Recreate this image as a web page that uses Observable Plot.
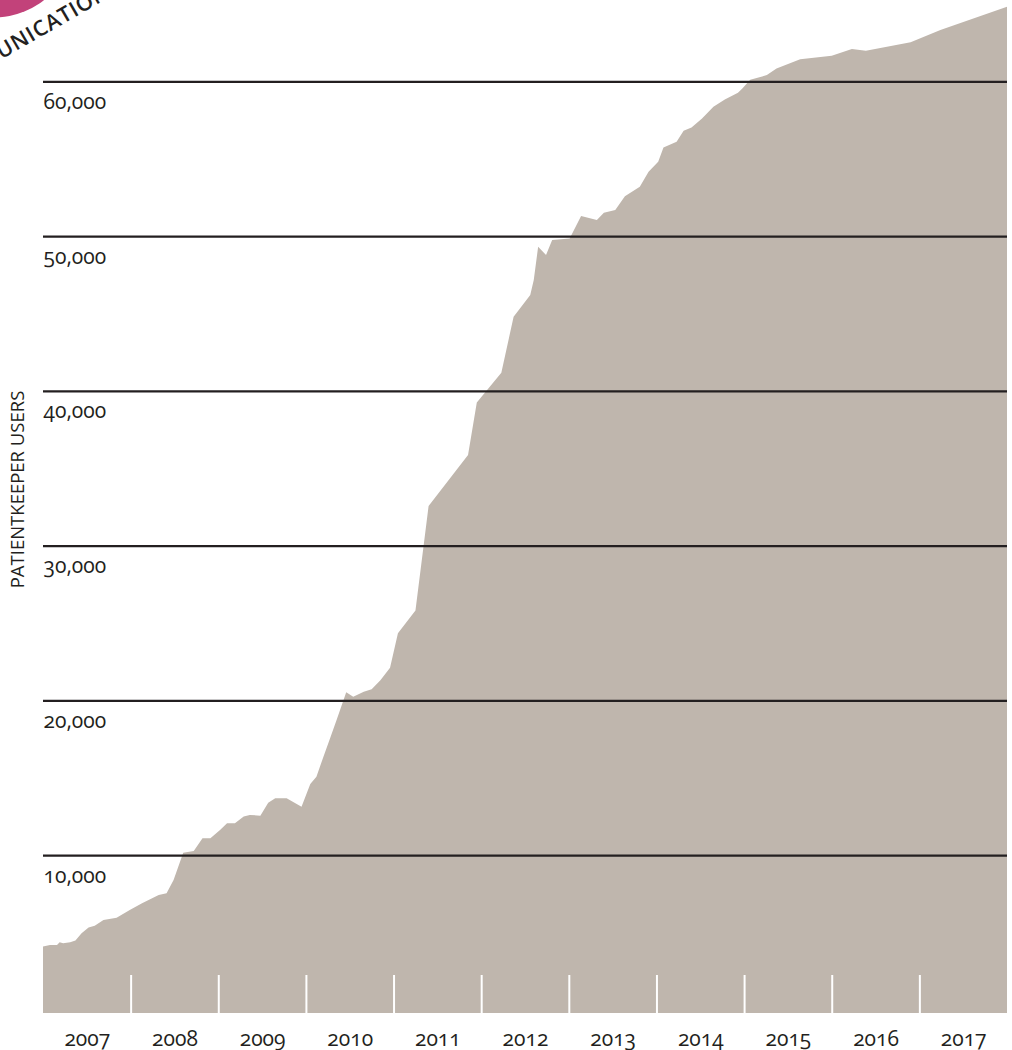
<!DOCTYPE html>
<html><head><meta charset="utf-8">
<script src="https://cdn.jsdelivr.net/npm/d3@7"></script>
<script src="https://cdn.jsdelivr.net/npm/@observablehq/plot@0.6"></script>
<style>
html,body{margin:0;padding:0;background:#fff;overflow:hidden;}
#chart svg{display:block;}
#chart svg text{font-variant-numeric:oldstyle-nums;font-feature-settings:"onum" 1;}
</style></head><body><div id="chart"></div>
<script>
// decimal-year positions and user counts
const dates = [2007.00,2007.08,2007.16,2007.19,2007.23,2007.31,2007.37,2007.44,2007.52,2007.59,2007.69,2007.84,2007.99,
  2008.13,2008.32,2008.41,2008.49,2008.60,2008.72,2008.82,2008.91,
  2009.02,2009.10,2009.19,2009.29,2009.36,2009.48,2009.57,2009.65,2009.78,2009.95,
  2010.05,2010.12,2010.20,2010.28,2010.35,2010.46,2010.54,2010.66,2010.75,2010.85,2010.96,
  2011.05,2011.25,2011.40,2011.85,2011.95,
  2012.23,2012.37,2012.56,2012.60,2012.65,2012.74,2012.81,
  2013.01,2013.14,2013.32,2013.40,2013.53,2013.64,2013.81,2013.91,
  2014.02,2014.08,2014.23,2014.31,2014.40,2014.52,2014.65,2014.78,2014.93,2014.98,
  2015.07,2015.26,2015.37,2015.64,2016.00,2016.23,2016.39,2016.90,2017.24,2018.00];
const users = [4100,4200,4200,4370,4300,4370,4480,4950,5320,5430,5810,5960,6460,
  6890,7430,7540,8400,10160,10270,11090,11090,
  11630,12060,12060,12490,12600,12550,13390,13680,13680,13130,
  14600,15070,16360,17620,18730,20520,20240,20560,20720,21300,22100,
  24330,25800,32560,35850,39250,
  41170,44790,46190,47160,49310,48770,49740,
  49850,51290,51030,51500,51680,52580,53190,54160,
  54800,55730,56090,56800,57020,57600,58350,58830,59260,59540,
  60100,60400,60830,61420,61650,62080,61980,62520,63310,64810];
const gridValues = [10000,20000,30000,40000,50000,60000];
const gridLabels = ["10,000","20,000","30,000","40,000","50,000","60,000"];
const yearLabels = [2007,2008,2009,2010,2011,2012,2013,2014,2015,2016,2017];
const yearBoundaries = [2008,2009,2010,2011,2012,2013,2014,2015,2016,2017];
const axisTitle = "PATIENTKEEPER USERS";
const badgeText = "UNICATION";
const yMin = -200, yMax = 64800;

const data = dates.map((d, i) => ({date: d, users: users[i]}));

const chart = Plot.plot({
  width: 1012, height: 1050,
  marginLeft: 43, marginRight: 5, marginTop: 7, marginBottom: 37,
  x: {domain: [2007, 2018], axis: null},
  y: {domain: [yMin, yMax], axis: null},
  style: {fontFamily: "'Open Sans', sans-serif", color: "#231f20", background: "white"},
  marks: [
    Plot.dot([0], {frameAnchor: "top-left", dx: -50, dy: -72, r: 82, fill: "#c2427a", stroke: "none"}),
    Plot.text([badgeText], {frameAnchor: "top-left", dx: -42, dy: 52, rotate: -30, textAnchor: "start", lineAnchor: "bottom", fontSize: 21.5, fontWeight: 600, fill: "#231f20"}),
    Plot.areaY(data, {x: "date", y1: yMin, y2: "users", fill: "#bfb6ad"}),
    Plot.ruleX(yearBoundaries, {stroke: "white", strokeWidth: 2, insetTop: 968}),
    Plot.ruleY(gridValues, {stroke: "#231f20", strokeWidth: 2.2}),
    Plot.text(gridValues, {x: 2007, y: d => d, text: (d, i) => gridLabels[i], dy: 27, textAnchor: "start", lineAnchor: "bottom", fontSize: 21, fill: "#231f20"}),
    Plot.text(yearLabels, {x: d => d + 0.5, frameAnchor: "bottom", dy: 32, text: d => String(d), fontSize: 21, fill: "#231f20"}),
    Plot.text([axisTitle], {frameAnchor: "left", dx: -25, dy: -21, rotate: -90, textAnchor: "middle", fontSize: 18.5, fill: "#231f20"})
  ]
});
d3.select(chart).selectAll("text")
  .filter(function() { return this.textContent === badgeText; })
  .attr("letter-spacing", 0.8);
document.getElementById("chart").appendChild(chart);
</script>
</body></html>
